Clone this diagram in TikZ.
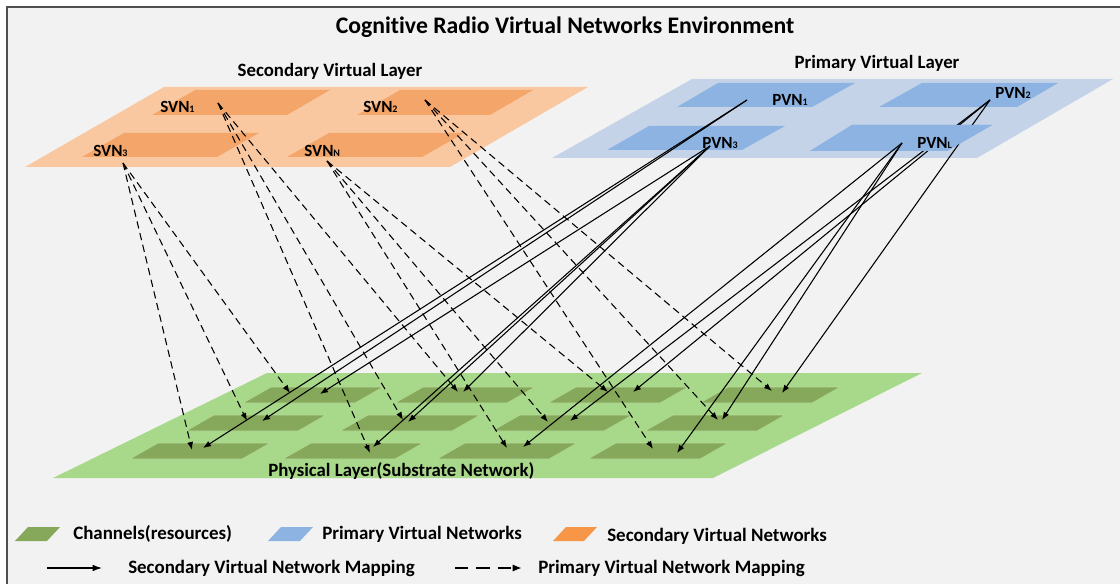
\documentclass[tikz,border=0pt]{standalone}
\usepackage{fontspec}
\setmainfont{Carlito}[Ligatures=NoCommon]
\usetikzlibrary{arrows.meta}
\definecolor{bg}{HTML}{F2F2F2}
\definecolor{frm}{HTML}{505050}
\definecolor{orL}{HTML}{F9C8A0}
\definecolor{orD}{HTML}{F4A66A}
\definecolor{orM}{HTML}{F79646}
\definecolor{blL}{HTML}{C5D3E8}
\definecolor{blD}{HTML}{8DB3E2}
\definecolor{grL}{HTML}{A8D88A}
\definecolor{grD}{HTML}{86A85A}
\definecolor{grE}{HTML}{B5DC9A}
\newcommand\subsc[1]{\raisebox{-0.6pt}{\fontsize{7.5}{8}\selectfont #1}}
\tikzset{
  title/.style={font=\bfseries\fontsize{17.8}{20}\selectfont, inner sep=0pt},
  layerlbl/.style={font=\bfseries\fontsize{14.1}{16}\selectfont, inner sep=0pt},
  netlbl/.style={font=\bfseries\fontsize{12.8}{14}\selectfont, inner sep=0pt, anchor=west},
  leglbl/.style={font=\bfseries\fontsize{14.2}{16}\selectfont, inner sep=0pt, anchor=west},
  smap/.style={-{Latex[length=6pt,width=4.5pt]}, line width=0.8pt, black},
  pmap/.style={smap, dash pattern=on 5.5pt off 3.5pt},
  chanblk/.style={fill=grD, draw=grE, line width=0.4pt},
}
\newcommand\chanpar[2]{\path[chanblk] ({#1-140},{#2+16}) -- ({#1-112},#2) -- (#1,#2) -- ({#1-28},{#2+16}) -- cycle;}
\begin{document}
\begin{tikzpicture}[x=0.75pt,y=-0.75pt]
\useasboundingbox (0,0) rectangle (1120,584);
\clip (0,0) rectangle (1120,584);
\fill[white] (0,0) rectangle (1120,584);
\fill[bg] (7,7) rectangle (1140,600);
\draw[frm, line width=1.1pt] (7,7) rectangle (1140,600);

% title
\node[title] (ttl) at (565,27) {Cognitive Radio Virtual Networks Environment};

% secondary layer
\node[layerlbl] (slay) at (330,71) {Secondary Virtual Layer};
\fill[orL] (164,87) -- (588,87) -- (450,167) -- (25,167) -- cycle;
\fill[orD] (195,90) -- (330,90) -- (287,115) -- (152,115) -- cycle;
\fill[orD] (400,90) -- (533,90) -- (490,115) -- (357,115) -- cycle;
\fill[orD] (124,133) -- (259,133) -- (217,157) -- (82,157) -- cycle;
\fill[orD] (329,133) -- (464,133) -- (422,157) -- (287,157) -- cycle;

% primary layer
\node[layerlbl] (play) at (877,63) {Primary Virtual Layer};
\fill[blL] (692,79) -- (1113,79) -- (977,158) -- (552,158) -- cycle;
\fill[blD] (718,83) -- (855,83) -- (812,107) -- (677,107) -- cycle;
\fill[blD] (922,83) -- (1058,83) -- (1017,107) -- (879,107) -- cycle;
\fill[blD] (649,126) -- (785,126) -- (742,150) -- (607,150) -- cycle;
\fill[blD] (852,125) -- (992,125) -- (947,151) -- (810,151) -- cycle;

% physical layer
\fill[grL] (267,373) -- (922,373) -- (713,478) -- (53,478) -- cycle;
\foreach \x in {383,535,688,840} {\chanpar{\x}{387}}
\foreach \x in {326,480,632,785} {\chanpar{\x}{415}}
\foreach \x in {270,423,577,728} {\chanpar{\x}{443}}
\node[layerlbl, anchor=west] (phy) at (268,471) {Physical Layer(Substrate Network)};

% source coordinates
\coordinate (s1) at (218,103);
\coordinate (s2) at (425,100);
\coordinate (s3) at (123,163);
\coordinate (sn) at (327,161);
\coordinate (p1) at (747,100);
\coordinate (p2) at (990,100);
\coordinate (p3) at (710,146);
\coordinate (pl) at (902,143);

% dashed destinations
\coordinate (d11) at (290,393); \coordinate (d12) at (458,392); \coordinate (d13) at (608,392); \coordinate (d14) at (772,391);
\coordinate (d21) at (247,421); \coordinate (d22) at (403,420); \coordinate (d23) at (548,422); \coordinate (d24) at (718,420);
\coordinate (d31) at (192,450); \coordinate (d32) at (370,453); \coordinate (d33) at (507,448); \coordinate (d34) at (653,449);
% solid destinations
\coordinate (e11) at (320,394); \coordinate (e12) at (463,392); \coordinate (e13) at (633,392); \coordinate (e14) at (782,393);
\coordinate (e21) at (262,421); \coordinate (e22) at (408,422); \coordinate (e23) at (570,421); \coordinate (e24) at (722,420);
\coordinate (e31) at (203,448); \coordinate (e32) at (373,447); \coordinate (e33) at (523,447); \coordinate (e34) at (677,453);

% PVN2 lines (pass behind the PVN_L block)
\draw[smap] (p2) -- (e13);
\draw[smap] (p2) -- (e23);
\draw[smap] (p2) -- (e14);
\fill[blD] (852,125) -- (992,125) -- (947,151) -- (810,151) -- cycle;

% other solid lines
\draw[smap] (p1) -- (e21);
\draw[smap] (p1) -- (e31);
\draw[smap] (p3) -- (e11);
\draw[smap] (p3) -- (e12);
\draw[smap] (p3) -- (e22);
\draw[smap] (p3) -- (e32);
\draw[smap] (pl) -- (e33);
\draw[smap] (pl) -- (e34);
\draw[smap] (pl) -- (e24);

% dashed lines
\draw[pmap] (s3) -- (d11);
\draw[pmap] (s3) -- (d21);
\draw[pmap] (s3) -- (d31);
\draw[pmap] (s1) -- (d12);
\draw[pmap] (s1) -- (d22);
\draw[pmap] (s1) -- (d32);
\draw[pmap] (sn) -- (d13);
\draw[pmap] (sn) -- (d23);
\draw[pmap] (sn) -- (d33);
\draw[pmap] (s2) -- (d14);
\draw[pmap] (s2) -- (d24);
\draw[pmap] (s2) -- (d34);

% network labels
\node[netlbl] (lsvn1) at (160,107) {SVN\subsc{1}};
\node[netlbl] (lsvn2) at (363,107) {SVN\subsc{2}};
\node[netlbl] (lsvn3) at (93,151) {SVN\subsc{3}};
\node[netlbl] (lsvnn) at (304,151) {SVN\subsc{N}};
\node[netlbl] (lpvn1) at (772,100) {PVN\subsc{1}};
\node[netlbl] (lpvn2) at (995,93) {PVN\subsc{2}};
\node[netlbl] (lpvn3) at (702,143) {PVN\subsc{3}};
\node[netlbl] (lpvnl) at (917,143) {PVN\subsc{L}};

% legend
\fill[grD] (15,541) -- (28,527) -- (60,527) -- (47,541) -- cycle;
\node[leglbl] (lg1) at (73,534) {Channels(resources)};
\fill[blD] (268,541) -- (281,527) -- (313,527) -- (300,541) -- cycle;
\node[leglbl] (lg2) at (322,534) {Primary Virtual Networks};
\fill[orM] (553,541) -- (566,527) -- (597,527) -- (584,541) -- cycle;
\node[leglbl] (lg3) at (607,536) {Secondary Virtual Networks};
\coordinate (la1) at (47,568); \coordinate (la2) at (102,568);
\draw[-{Latex[length=7pt,width=5pt]}, line width=0.9pt] (la1) -- (la2);
\node[leglbl] (lg4) at (128,568) {Secondary Virtual Network Mapping};
\coordinate (lb1) at (455,568); \coordinate (lb2) at (522,568);
\draw[-{Latex[length=7pt,width=5.5pt]}, line width=1.4pt, dash pattern=on 10pt off 6pt] (lb1) -- (lb2);
\node[leglbl] (lg5) at (538,568) {Primary Virtual Network Mapping};
\end{tikzpicture}
\end{document}
